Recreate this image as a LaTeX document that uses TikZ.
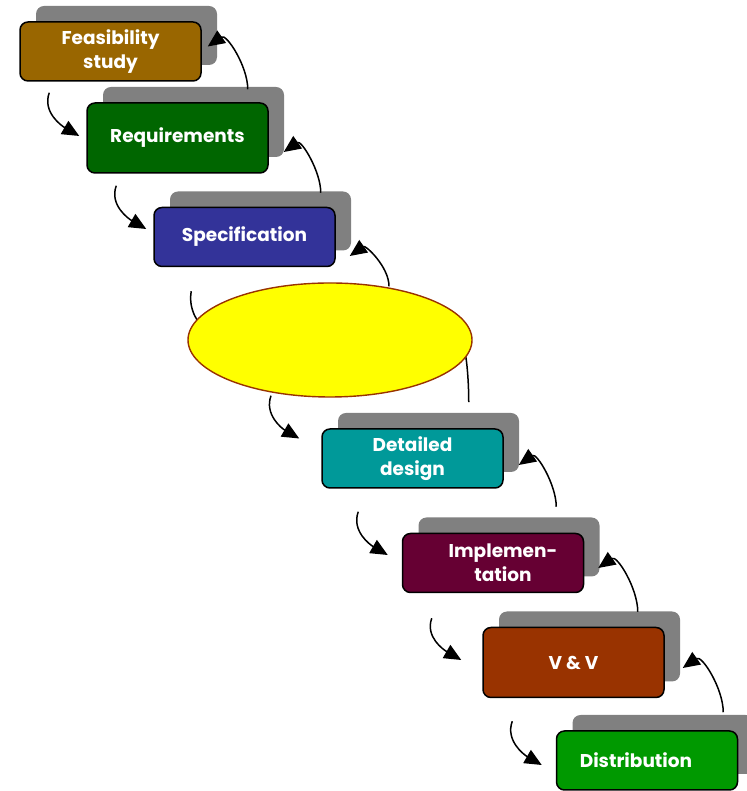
\documentclass[tikz,border=0pt]{standalone}
\usepackage{fontspec}
\setmainfont{Poppins}
\usetikzlibrary{shadows,arrows.meta,shapes.geometric}

\definecolor{shadowgray}{HTML}{808080}
\definecolor{feascol}{HTML}{996600}
\definecolor{reqcol}{HTML}{006600}
\definecolor{speccol}{HTML}{333399}
\definecolor{detcol}{HTML}{009999}
\definecolor{implcol}{HTML}{660033}
\definecolor{vvcol}{HTML}{993300}
\definecolor{distcol}{HTML}{009900}
\definecolor{ovalline}{HTML}{993300}
\definecolor{ovalfill}{HTML}{FFFF00}

\pgfdeclarelayer{front}
\pgfsetlayers{main,front}

\begin{document}
\begin{tikzpicture}[x=1pt,y=1pt,
  stagefont/.style={text=white, font=\bfseries\fontsize{18.5}{24}\selectfont, align=center},
  stage/.style={draw=black, line width=1.5pt, rounded corners=8pt,
    minimum width=181pt, minimum height=59pt, inner sep=0pt, fill=#1,
    stagefont,
    drop shadow={shadow xshift=16pt, shadow yshift=16pt, fill=shadowgray, opacity=1}},
  tall/.style={minimum height=70pt},
  flow/.style={line width=1.5pt, -{Triangle[length=17pt,width=15pt]}},
  down/.style={flow, out=250, in=150},
  up/.style={flow, out=90, in=35},
]
\useasboundingbox (0,0) rectangle (746,791);

% the oval sits above the connectors that run into it
\begin{pgfonlayer}{front}
  \node[ellipse, draw=ovalline, fill=ovalfill, line width=1.4pt,
        minimum width=284pt, minimum height=114pt, inner sep=0pt] (ell) at (330,451) {};
\end{pgfonlayer}

% stages
\node[stage=feascol] (feas) at (110.5,739.5) {Feasibility\\study};
\node[stage=reqcol, tall] (req) at (177.5,653) {Requirements};
\node[stage=speccol] (spec) at (244.5,554) {Specification};
\node[stage=detcol] (det) at (412.5,332.5) {Detailed\\design};
\node[stage=implcol, label={[stagefont, xshift=10pt]center:{Implemen-\\tation}}] (impl) at (493,228) {};
\node[stage=vvcol, tall] (vv) at (573.5,128.5) {V \& V};
\node[stage=distcol, label={[stagefont, xshift=-11pt]center:Distribution}] (dist) at (647,30.5) {};

% forward steps (left side)
\draw[down] ([shift={(30,-11)}]feas.south west) to ([shift={(-7,2)}]req.west);
\draw[down] ([shift={(30,-12)}]req.south west) to ([shift={(-7,8)}]spec.west);
\draw[flow, out=260, in=150] ([shift={(38,-24)}]spec.south west) to ([shift={(30,5)}]ell.west);
\draw[down] ([shift={(-59,2)}]ell.south) to ([shift={(-22,20)}]det.west);
\draw[down] ([shift={(37,-23)}]det.south west) to ([shift={(-14,8)}]impl.west);
\draw[down] ([shift={(30,-25)}]impl.south west) to ([shift={(-21,2.5)}]vv.west);
\draw[down] ([shift={(30,-23)}]vv.south west) to ([shift={(-14,-4.5)}]dist.west);

% feedback steps (right side)
\draw[up] ([shift={(-21,13)}]req.north east) to ([shift={(6,5)}]feas.east);
\draw[up] ([shift={(-15,14)}]spec.north east) to ([shift={(15,-14)}]req.east);
\draw[up] ([shift={(59,-4)}]ell.north) to ([shift={(14,-19)}]spec.east);
\draw[up, in=20] ([shift={(-35,26)}]det.north east) to ([shift={(-30,-5)}]ell.east);
\draw[up] ([shift={(-28,26)}]impl.north east) to ([shift={(15,-6.5)}]det.east);
\draw[up] ([shift={(-27,15)}]vv.north east) to ([shift={(14,-5)}]impl.east);
\draw[up] ([shift={(-15,18)}]dist.north east) to ([shift={(18,-5.5)}]vv.east);
\end{tikzpicture}
\end{document}
